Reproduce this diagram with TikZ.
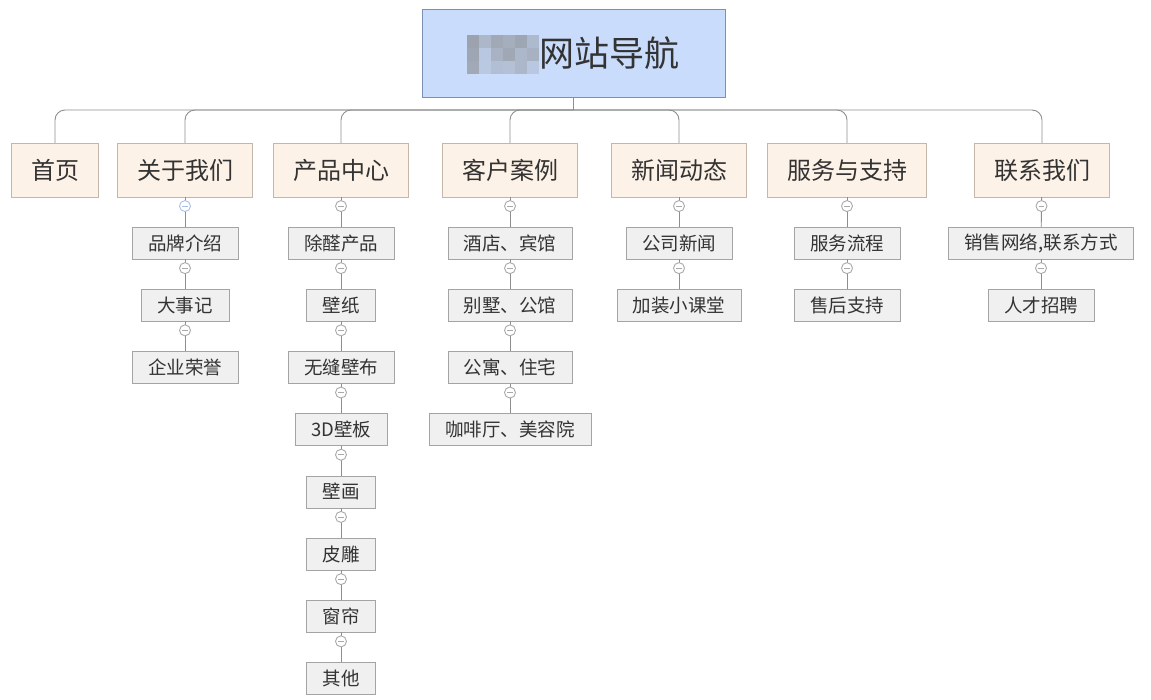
\documentclass[tikz,border=0pt]{standalone}
\usepackage{fontspec}
\setmainfont{Noto Sans CJK SC}
\usetikzlibrary{positioning}
\usepackage{xcolor}

\definecolor{titlefill}{HTML}{C9DCFB}
\definecolor{titleline}{HTML}{7D8FB3}
\definecolor{menufill}{HTML}{FDF2E7}
\definecolor{menuline}{HTML}{C4B6A8}
\definecolor{itemfill}{HTML}{F0F0F0}
\definecolor{itemline}{HTML}{A4A4A4}
\definecolor{linkgray}{HTML}{8E8E8E}
\definecolor{foldline}{HTML}{A9A9A9}
\definecolor{foldblue}{HTML}{A8BEEB}
\definecolor{textgray}{HTML}{333333}

\begin{document}
\begin{tikzpicture}[x=1pt, y=-1pt,
    every node/.style={text=textgray},
    title/.style={rectangle, draw=titleline, fill=titlefill, minimum width=303pt, minimum height=88pt, font=\fontsize{35}{35}\selectfont},
    menu/.style={rectangle, draw=menuline, fill=menufill, inner xsep=19.5pt, minimum height=54pt, font=\fontsize{24}{24}\selectfont},
    item/.style={rectangle, draw=itemline, fill=itemfill, inner xsep=16pt, minimum height=32pt, font=\fontsize{18.5}{18.5}\selectfont},
    fold/.style={circle, draw=#1, fill=white, minimum size=11pt, inner sep=0pt, pos=0.3,
        path picture={\draw[#1, line width=0.8pt] ([xshift=-2.8pt]path picture bounding box.center) -- ([xshift=2.8pt]path picture bounding box.center);}},
    fold/.default=foldline,
    link/.style={draw=linkgray, line width=0.9pt}
]
\useasboundingbox (0,0) rectangle (1151,699);

% title
\node (site) [title] at (573.5,53) {\hspace*{72pt}网站导航};
\foreach \i/\j/\s in {0/0/62,1/0/40,2/0/55,3/0/50,4/0/58,5/0/38,
                      0/1/58,1/1/22,2/1/45,3/1/56,4/1/40,5/1/46,
                      0/2/55,1/2/20,2/2/32,3/2/30,4/2/40,5/2/22}
{
    \fill[gray!\s!titlefill] (467+12*\i,35+13*\j) rectangle ++(12,13);
}

% menu
\node (home)    [menu] at (55,170)   {首页};
\node (about)   [menu] at (185,170)  {关于我们};
\node (product) [menu] at (341,170)  {产品中心};
\node (cases)   [menu] at (510,170)  {客户案例};
\node (news)    [menu] at (679,170)  {新闻动态};
\node (service) [menu] at (847,170)  {服务与支持};
\node (contact) [menu] at (1042,170) {联系我们};

\coordinate (bar) at (573.5,110);
\draw[link] (site) -- (bar);
\draw[link, rounded corners=10pt] (bar) -| (home);
\draw[link, rounded corners=10pt] (bar) -| (about);
\draw[link, rounded corners=10pt] (bar) -| (product);
\draw[link, rounded corners=10pt] (bar) -| (cases);
\draw[link, rounded corners=10pt] (bar) -| (news);
\draw[link, rounded corners=10pt] (bar) -| (service);
\draw[link, rounded corners=10pt] (bar) -| (contact);

% about
\node (about1) [item] at (185,243)   {品牌介绍};
\node (about2) [item] at (185,305.2) {大事记};
\node (about3) [item] at (185,367.4) {企业荣誉};

\draw[link] (about) -- node[fold=foldblue] (fa1) {} (about1);
\draw[link] (about1) -- node[fold] (fa2) {} (about2);
\draw[link] (about2) -- node[fold] (fa3) {} (about3);

% product
\node (product1) [item] at (341,243)   {除醛产品};
\node (product2) [item] at (341,305.2) {壁纸};
\node (product3) [item] at (341,367.4) {无缝壁布};
\node (product4) [item] at (341,429.6) {3D壁板};
\node (product5) [item] at (341,491.8) {壁画};
\node (product6) [item] at (341,554)   {皮雕};
\node (product7) [item] at (341,616.2) {窗帘};
\node (product8) [item] at (341,678.4) {其他};

\draw[link] (product) -- node[fold] (fp1) {} (product1);
\draw[link] (product1) -- node[fold] (fp2) {} (product2);
\draw[link] (product2) -- node[fold] (fp3) {} (product3);
\draw[link] (product3) -- node[fold] (fp4) {} (product4);
\draw[link] (product4) -- node[fold] (fp5) {} (product5);
\draw[link] (product5) -- node[fold] (fp6) {} (product6);
\draw[link] (product6) -- node[fold] (fp7) {} (product7);
\draw[link] (product7) -- node[fold] (fp8) {} (product8);

% cases
\node (cases1) [item] at (510,243)   {酒店、宾馆};
\node (cases2) [item] at (510,305.2) {别墅、公馆};
\node (cases3) [item] at (510,367.4) {公寓、住宅};
\node (cases4) [item] at (510,429.6) {咖啡厅、美容院};

\draw[link] (cases) -- node[fold] (fc1) {} (cases1);
\draw[link] (cases1) -- node[fold] (fc2) {} (cases2);
\draw[link] (cases2) -- node[fold] (fc3) {} (cases3);
\draw[link] (cases3) -- node[fold] (fc4) {} (cases4);

% news
\node (news1) [item] at (679,243)   {公司新闻};
\node (news2) [item] at (679,305.2) {加装小课堂};

\draw[link] (news) -- node[fold] (fn1) {} (news1);
\draw[link] (news1) -- node[fold] (fn2) {} (news2);

% service
\node (service1) [item] at (847,243)   {服务流程};
\node (service2) [item] at (847,305.2) {售后支持};

\draw[link] (service) -- node[fold] (fs1) {} (service1);
\draw[link] (service1) -- node[fold] (fs2) {} (service2);

% contact
\node (contact1) [item] at (1041,243)   {销售网络,联系方式};
\node (contact2) [item] at (1041,305.2) {人才招聘};

\draw[link] (contact) -- node[fold] (fk1) {} (contact1);
\draw[link] (contact1) -- node[fold] (fk2) {} (contact2);

\end{tikzpicture}
\end{document}
